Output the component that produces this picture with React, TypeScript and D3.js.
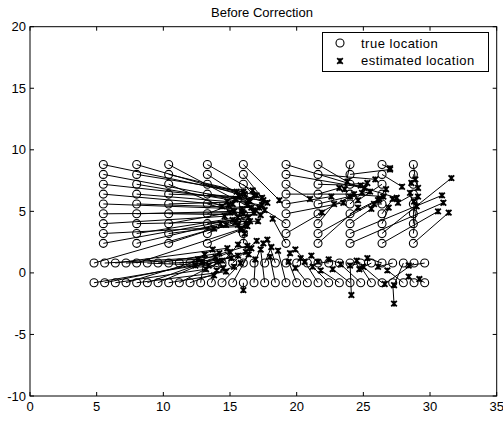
import { useEffect, useRef } from "react";
import * as d3 from "d3";

type Pt = [number, number];

// true location grid
const colX = [5.5, 8.0, 10.4, 13.3, 16.0, 19.2, 21.6, 24.0, 26.4, 28.75];
const colY = [2.4, 3.2, 4.0, 4.8, 5.6, 6.4, 7.2, 8.0, 8.8];
const rowY = [0.8, -0.8];
const rowX = [
  4.8, 5.6, 6.4, 7.2, 8.0, 8.8, 9.6, 10.4, 11.2, 12.0, 12.8, 13.6, 14.4, 15.2, 16.0, 16.8,
  17.6, 18.4, 19.2, 20.0, 20.8, 21.6, 22.4, 23.2, 24.0, 24.8, 25.6, 26.4, 27.2, 28.0, 28.8, 29.6,
];

// estimated locations, one list per column (bottom -> top)
const estCols: Pt[][] = [
  [[15.2, 4.3], [16.3, 3.8], [14.6, 4.6], [16.8, 4.9], [15.9, 5.2], [14.9, 5.5], [16.4, 5.9], [15.4, 6.0], [16.1, 6.4]],
  [[14.3, 4.0], [15.6, 4.5], [17.1, 4.2], [15.3, 5.0], [16.6, 5.3], [14.8, 5.8], [17.4, 5.5], [16.0, 6.6], [17.8, 5.7]],
  [[13.8, 3.6], [16.2, 4.0], [15.0, 4.9], [17.3, 4.7], [16.5, 5.8], [15.7, 6.2], [14.4, 5.4], [17.0, 6.3], [16.9, 5.1]],
  [[15.8, 3.5], [14.7, 3.9], [16.4, 4.5], [15.2, 5.6], [16.0, 4.8], [17.5, 5.9], [15.5, 6.6], [17.2, 5.3], [16.7, 6.7]],
  [[16.1, 3.2], [15.6, 3.9], [16.5, 4.2], [15.9, 5.0], [16.3, 5.5], [15.4, 6.0], [16.8, 6.3], [17.4, 6.1], [18.7, 5.9]],
  [[18.2, 4.4], [21.9, 4.9], [17.6, 5.1], [23.5, 5.7], [22.6, 6.2], [24.3, 6.4], [21.0, 6.0], [25.1, 6.9], [27.5, 6.1]],
  [[24.6, 5.3], [26.1, 5.9], [22.8, 5.6], [24.0, 6.2], [25.5, 6.6], [23.2, 6.9], [24.8, 7.1], [25.9, 7.6], [23.8, 7.4]],
  [[31.0, 5.7], [30.9, 6.3], [25.6, 5.2], [26.2, 6.0], [24.9, 6.5], [26.5, 6.2], [25.3, 7.3], [27.0, 8.4], [23.6, 6.8]],
  [[30.6, 5.0], [31.6, 7.7], [26.9, 5.3], [27.2, 6.0], [25.8, 5.6], [26.7, 6.8], [24.6, 5.9], [27.9, 7.0], [27.0, 8.5]],
  [[31.4, 4.9], [29.0, 5.4], [28.8, 5.8], [29.1, 6.2], [28.5, 6.5], [27.6, 5.7], [28.6, 7.3], [29.1, 6.9], [28.9, 7.6]],
];

// estimated locations for the two horizontal rows (left -> right)
const estRowUpper: Pt[] = [
  [15.4, 4.1], [13.9, 1.3], [14.8, 2.0], [12.6, 1.1], [15.9, 3.6], [13.4, 0.6], [14.2, 1.6], [12.9, 0.9],
  [15.1, 1.2], [13.7, 1.9], [14.5, 0.4], [16.2, 1.7], [15.6, 2.3], [17.0, 2.6], [16.6, 2.0], [17.5, 2.4],
  [18.1, 2.1], [17.8, 2.7], [19.5, 1.6], [20.3, 1.2], [19.9, 1.9], [21.1, 1.4], [21.6, 0.9], [22.4, 1.1],
  [24.1, -1.8], [24.0, 0.6], [24.7, 0.3], [25.3, 1.2], [26.1, 0.5], [27.3, -1.0], [26.6, -0.9], [28.4, 0.6],
];
const estRowLower: Pt[] = [
  [14.1, 0.9], [15.6, 1.4], [13.2, 0.3], [16.3, 2.2], [14.7, 0.1], [12.4, 0.6], [15.0, 1.7], [13.8, -0.2],
  [14.4, 1.0], [15.3, 0.5], [13.1, 1.5], [14.0, 0.2], [15.8, 0.8], [16.4, 1.5], [16.0, -1.4], [16.9, 1.1],
  [17.3, 1.9], [18.0, 1.3], [18.6, 1.8], [19.4, 0.9], [19.9, 0.4], [20.6, 0.9], [21.2, 0.5], [21.8, 0.2],
  [22.7, 0.3], [23.3, 0.7], [24.5, 1.0], [25.0, 0.5], [27.3, -2.5], [26.8, 0.2], [28.4, -0.3], [29.2, -0.5],
];

const xTicks = [0, 5, 10, 15, 20, 25, 30, 35];
const yTicks = [-10, -5, 0, 5, 10, 15, 20];
const legendLabels = ["true location", "estimated location"];
const title = "Before Correction";

export default function App() {
  const svgRef = useRef<SVGSVGElement>(null);

  useEffect(() => {
    if (!svgRef.current) return;
    const svg = d3.select(svgRef.current);
    svg.selectAll("*").remove();

    const left = 30, right = 496.7, top = 26.7, bottom = 396;
    const x = d3.scaleLinear().domain([0, 35]).range([left, right]);
    const y = d3.scaleLinear().domain([-10, 20]).range([bottom, top]);
    const font = "'Liberation Sans', Arial, sans-serif";

    svg.append("rect").attr("width", 503).attr("height", 421).attr("fill", "#fff");

    // build pairs true -> estimated
    const pairs: { t: Pt; e: Pt }[] = [];
    colX.forEach((cx, i) => colY.forEach((cy, j) => pairs.push({ t: [cx, cy], e: estCols[i][j] })));
    rowX.forEach((rx, i) => {
      pairs.push({ t: [rx, rowY[0]], e: estRowUpper[i] });
      pairs.push({ t: [rx, rowY[1]], e: estRowLower[i] });
    });

    const plot = svg.append("g");

    // true locations
    plot.selectAll(".true")
      .data(pairs)
      .enter()
      .append("circle")
      .attr("cx", d => x(d.t[0]))
      .attr("cy", d => y(d.t[1]))
      .attr("r", 4)
      .attr("fill", "none")
      .attr("stroke", "#000")
      .attr("stroke-width", 1.1);

    // connecting lines
    plot.selectAll(".link")
      .data(pairs)
      .enter()
      .append("line")
      .attr("x1", d => x(d.t[0])).attr("y1", d => y(d.t[1]))
      .attr("x2", d => x(d.e[0])).attr("y2", d => y(d.e[1]))
      .attr("stroke", "#000")
      .attr("stroke-width", 1);

    // estimated markers
    const cross = (g: any, px: number, py: number) => {
      const s = 2.8;
      g.append("path")
        .attr("d", `M${px - s},${py - s}L${px + s},${py + s}M${px - s},${py + s}L${px + s},${py - s}M${px},${py - s}L${px},${py + s}`)
        .attr("stroke", "#000")
        .attr("stroke-width", 1.8)
        .attr("fill", "none");
    };
    const marks = plot.append("g");
    pairs.forEach(d => cross(marks, x(d.e[0]), y(d.e[1])));

    // axes box
    svg.append("rect")
      .attr("x", left).attr("y", top)
      .attr("width", right - left).attr("height", bottom - top)
      .attr("fill", "none").attr("stroke", "#000").attr("stroke-width", 1);

    const tl = 4;
    xTicks.forEach(t => {
      const px = x(t);
      svg.append("line").attr("x1", px).attr("x2", px).attr("y1", bottom).attr("y2", bottom - tl).attr("stroke", "#000");
      svg.append("line").attr("x1", px).attr("x2", px).attr("y1", top).attr("y2", top + tl).attr("stroke", "#000");
      svg.append("text").attr("x", px).attr("y", bottom + 15)
        .attr("text-anchor", "middle").attr("font-family", font).attr("font-size", 13).text(t);
    });
    yTicks.forEach(t => {
      const py = y(t);
      svg.append("line").attr("x1", left).attr("x2", left + tl).attr("y1", py).attr("y2", py).attr("stroke", "#000");
      svg.append("line").attr("x1", right).attr("x2", right - tl).attr("y1", py).attr("y2", py).attr("stroke", "#000");
      svg.append("text").attr("x", left - 4).attr("y", py + 4.5)
        .attr("text-anchor", "end").attr("font-family", font).attr("font-size", 13).text(t);
    });

    svg.append("text").attr("x", 262).attr("y", 17)
      .attr("text-anchor", "middle").attr("font-family", font).attr("font-size", 13).text(title);

    // legend
    const lg = svg.append("g");
    lg.append("rect").attr("x", 322.5).attr("y", 32.5).attr("width", 166).attr("height", 39)
      .attr("fill", "#fff").attr("stroke", "#000");
    lg.append("circle").attr("cx", 340).attr("cy", 43).attr("r", 4)
      .attr("fill", "none").attr("stroke", "#000").attr("stroke-width", 1.1);
    cross(lg, 340, 61);
    legendLabels.forEach((l, i) => {
      lg.append("text").attr("x", 361).attr("y", 47.5 + i * 17)
        .attr("font-family", font).attr("font-size", 13).attr("letter-spacing", 0.5).text(l);
    });
  }, []);

  return (
    <svg ref={svgRef} width={503} height={421} style={{ position: "absolute", left: 0, top: 0 }} />
  );
}
